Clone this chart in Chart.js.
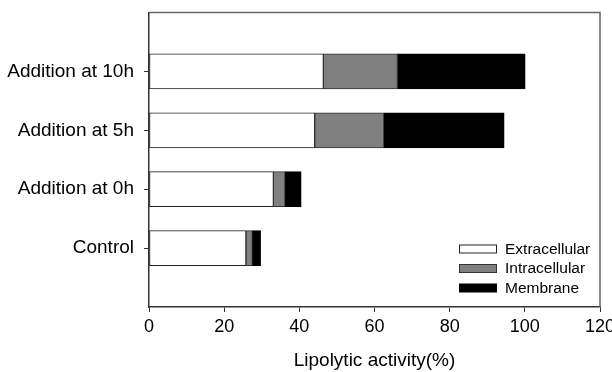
<!DOCTYPE html>
<html><head><meta charset="utf-8">
<script src="https://cdn.jsdelivr.net/npm/chart.js@4"></script>
<style>html,body{margin:0;padding:0;background:#fff}canvas{display:block}</style>
</head><body>
<canvas id="c" width="612" height="372"></canvas>
<script>
const categories = ['', 'Addition at 10h', 'Addition at 5h', 'Addition at 0h', 'Control', ''];
const extracellular = [null, 46.4, 44.1, 33.1, 25.8, null];
const intracellular = [null, 19.7, 18.4, 3.1, 1.7, null];
const membrane = [null, 34.0, 32.0, 4.3, 2.2, null];
const seriesNames = ['Extracellular', 'Intracellular', 'Membrane'];
const xTicks = [0, 20, 40, 60, 80, 100, 120];
const xTitle = 'Lipolytic activity(%)';

const FONT = "'Liberation Sans', Arial, sans-serif";

const framePlugin = {
  id: 'frame',
  afterDraw(chart) {
    const {ctx, chartArea: a} = chart;
    ctx.save();
    ctx.strokeStyle = '#666';
    ctx.lineWidth = 1.5;
    ctx.beginPath();
    ctx.moveTo(a.left, a.top);
    ctx.lineTo(a.right, a.top);
    ctx.lineTo(a.right, a.bottom);
    ctx.stroke();
    ctx.restore();
  }
};

const legendPlugin = {
  id: 'insideLegend',
  afterDraw(chart) {
    const {ctx, chartArea: a} = chart;
    ctx.save();
    ctx.font = '15.5px ' + FONT;
    ctx.textBaseline = 'middle';
    ctx.textAlign = 'left';
    const rowsY = [a.bottom - 58, a.bottom - 38.5, a.bottom - 19];
    chart.data.datasets.forEach((ds, i) => {
      const y = rowsY[i];
      const bx = a.right - 140.5;
      ctx.fillStyle = ds.backgroundColor;
      ctx.fillRect(bx, y - 4, 37, 8);
      ctx.strokeStyle = ds.borderColor;
      ctx.lineWidth = 1;
      ctx.strokeRect(bx, y - 4, 37, 8);
      ctx.fillStyle = '#000';
      ctx.fillText(ds.label, a.right - 95, y + 0.5);
    });
    ctx.restore();
  }
};

new Chart(document.getElementById('c'), {
  type: 'bar',
  data: {
    labels: categories,
    datasets: [
      {label: seriesNames[0], data: extracellular, backgroundColor: '#ffffff', borderColor: '#222', borderWidth: 1, borderSkipped: false},
      {label: seriesNames[1], data: intracellular, backgroundColor: '#808080', borderColor: '#333', borderWidth: 1, borderSkipped: false},
      {label: seriesNames[2], data: membrane, backgroundColor: '#000000', borderColor: '#000', borderWidth: 1, borderSkipped: false}
    ]
  },
  options: {
    indexAxis: 'y',
    responsive: false,
    animation: false,
    devicePixelRatio: 1,
    layout: {padding: {left: 0, right: 12, top: 12.5, bottom: 0}},
    datasets: {bar: {barThickness: 35}},
    plugins: {legend: {display: false}, tooltip: {enabled: false}},
    scales: {
      x: {
        type: 'linear',
        stacked: true,
        min: 0, max: 120,
        afterBuildTicks: s => { s.ticks = xTicks.map(v => ({value: v})); },
        afterFit: s => { s.height = 65; s.paddingRight = 0; s.paddingLeft = 0; },
        grid: {display: true, drawOnChartArea: false, drawTicks: true, tickLength: 5, tickColor: '#333', tickWidth: 1},
        border: {display: true, color: '#333', width: 1.5},
        ticks: {font: {family: FONT, size: 18}, color: '#000', padding: 4, maxRotation: 0},
        title: {display: true, text: xTitle, font: {family: FONT, size: 19}, color: '#000', padding: {top: 0, bottom: 0}}
      },
      y: {
        type: 'category',
        stacked: true,
        offset: false,
        afterFit: s => { s.width = 149; s.paddingTop = 0; s.paddingBottom = 0; },
        grid: {display: true, offset: false, drawOnChartArea: false, drawTicks: true, tickLength: 5,
               tickColor: c => (c.index === 0 || c.index === categories.length - 1) ? 'rgba(0,0,0,0)' : '#333', tickWidth: 1},
        border: {display: true, color: '#333', width: 1.5},
        ticks: {font: {family: FONT, size: 19}, color: '#000', padding: 10, autoSkip: false}
      }
    }
  },
  plugins: [framePlugin, legendPlugin]
});
</script>
</body></html>
